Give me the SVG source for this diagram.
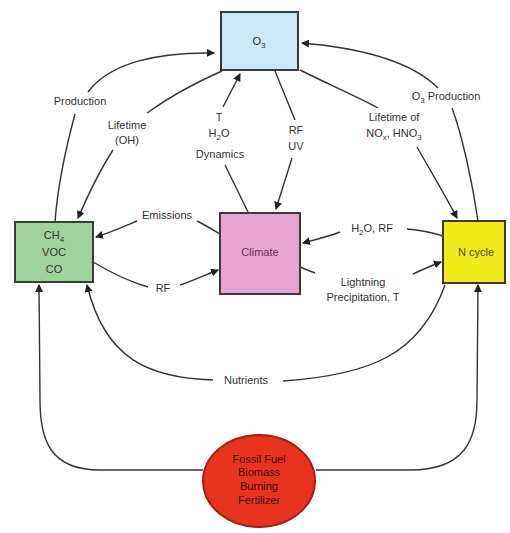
<svg xmlns="http://www.w3.org/2000/svg" width="510" height="533" viewBox="0 0 510 533">
<style>
.lbl{font-family:"Liberation Sans",Arial,sans-serif;font-size:11px;fill:#333;text-anchor:middle}
.ntx{font-family:"Liberation Sans",Arial,sans-serif;font-size:11px;text-anchor:middle}
.box{stroke:#3a3a3a;stroke-width:2}
.con{fill:none;stroke:#333;stroke-width:1.4}
.arr{marker-end:url(#ah)}
</style>
<defs>
<marker id="ah" markerUnits="userSpaceOnUse" markerWidth="8" markerHeight="8" refX="7" refY="4" orient="auto">
<path d="M0,0 L8,4 L0,8 z" fill="#222"/>
</marker>
</defs>
<rect width="510" height="533" fill="#fff"/>
<g id="connectors">
<path class="con" d="M55,222 C58,180 68,140 75,114"/>
<path class="con arr" d="M88,92 C110,62 160,52 214,53"/>
<path class="con" d="M222,71 C190,85 165,100 147,113"/>
<path class="con arr" d="M113,150 C100,170 88,195 78,218"/>
<path class="con arr" d="M223,107 L240,74"/>
<path class="con" d="M225,165 L248,212"/>
<path class="con" d="M275,71 L295,120"/>
<path class="con arr" d="M292,158 L276,209"/>
<path class="con" d="M300,70 C330,85 360,98 378,108"/>
<path class="con arr" d="M417,147 C430,170 445,195 457,218"/>
<path class="con" d="M478,221 C472,180 462,135 452,108"/>
<path class="con arr" d="M438,88 C410,60 360,48 302,43"/>
<path class="con" d="M220,234 C210,228 203,224 197,221"/>
<path class="con arr" d="M137,221 C125,226 112,232 96,237"/>
<path class="con" d="M93,262 C110,272 130,282 148,287"/>
<path class="con arr" d="M180,285 C192,281 205,275 218,270"/>
<path class="con" d="M443,236 C430,232 418,230 407,229"/>
<path class="con arr" d="M340,232 C330,236 318,239 303,243"/>
<path class="con" d="M300,267 L315,273"/>
<path class="con arr" d="M413,274 C422,270 430,266 441,262"/>
<path class="con arr" d="M213,380 C150,378 105,360 87,285"/>
<path class="con" d="M283,381 C370,375 420,355 445,285"/>
<path class="con arr" d="M203,470 L100,470 C50,470 40,440 40,400 L39,285"/>
<path class="con arr" d="M316,470 L410,470 C465,470 477,440 477,400 L478,285"/>
</g>
<g id="labels">
<text class="lbl" x="80" y="105">Production</text>
<text class="lbl" x="127" y="129">Lifetime</text>
<text class="lbl" x="127" y="144">(OH)</text>
<text class="lbl" x="219" y="121">T</text>
<text class="lbl" x="219" y="137">H<tspan dy="3" font-size="8">2</tspan><tspan dy="-3">O</tspan></text>
<text class="lbl" x="220" y="158">Dynamics</text>
<text class="lbl" x="296" y="134">RF</text>
<text class="lbl" x="296" y="150">UV</text>
<text class="lbl" x="394" y="121">Lifetime of</text>
<text class="lbl" x="394" y="137">NO<tspan dy="3" font-size="8">x</tspan><tspan dy="-3">, HNO</tspan><tspan dy="3" font-size="8">3</tspan></text>
<text class="lbl" x="446" y="100">O<tspan dy="3" font-size="8">3</tspan><tspan dy="-3"> Production</tspan></text>
<text class="lbl" x="167" y="219">Emissions</text>
<text class="lbl" x="163" y="292">RF</text>
<text class="lbl" x="372" y="232">H<tspan dy="3" font-size="8">2</tspan><tspan dy="-3">O, RF</tspan></text>
<text class="lbl" x="363" y="286">Lightning</text>
<text class="lbl" x="363" y="301">Precipitation, T</text>
<text class="lbl" x="246" y="384">Nutrients</text>
</g>
<g id="node-o3">
<rect class="box" x="221" y="12" width="77" height="58" fill="#cbe8f7"/>
<text class="ntx" x="259" y="45" fill="#333">O<tspan dy="3" font-size="8">3</tspan></text>
</g>
<g id="node-ch4">
<rect class="box" x="15" y="222" width="78" height="60" fill="#9ed49c"/>
<text class="ntx" x="54" y="239" fill="#333">CH<tspan dy="3" font-size="8">4</tspan></text>
<text class="ntx" x="54" y="256" fill="#333">VOC</text>
<text class="ntx" x="54" y="273" fill="#333">CO</text>
</g>
<g id="node-climate">
<rect class="box" x="220" y="213" width="80" height="81" fill="#e6a6d0"/>
<text class="ntx" x="260" y="256" fill="#6a3050">Climate</text>
</g>
<g id="node-ncycle">
<rect class="box" x="443" y="221" width="62" height="62" fill="#f2ea1a"/>
<text class="ntx" x="476" y="256" fill="#4a4410">N cycle</text>
</g>
<g id="node-sources">
<ellipse cx="259" cy="481" rx="56" ry="46" fill="#e8341f" stroke="#a02010" stroke-width="2"/>
<text class="ntx" x="259" y="463" font-size="10" fill="#3a0a05">Fossil Fuel</text>
<text class="ntx" x="259" y="476" font-size="10" fill="#3a0a05">Biomass</text>
<text class="ntx" x="259" y="490" font-size="10" fill="#3a0a05">Burning</text>
<text class="ntx" x="259" y="504" font-size="10" fill="#3a0a05">Fertilizer</text>
</g>
</svg>
